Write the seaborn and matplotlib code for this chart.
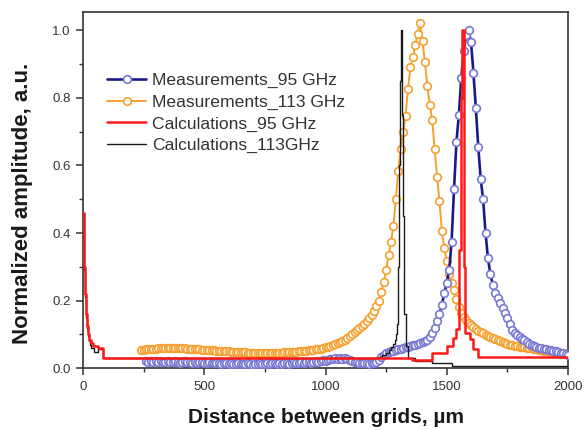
import numpy as np
import pandas as pd
import matplotlib
matplotlib.use("Agg")
import matplotlib.pyplot as plt
import seaborn as sns

# ---------------- data ----------------
# Measurements_113 GHz, sampled every 10 um from 240 to 2000 um
orange_x0 = 240
orange_y = [
    0.053, 0.055, 0.056, 0.057, 0.057, 0.058, 0.058, 0.059, 0.059, 0.060,
    0.060, 0.060, 0.061, 0.061, 0.061, 0.060, 0.060, 0.059, 0.059, 0.058,
    0.058, 0.057, 0.057, 0.056, 0.056, 0.055, 0.055, 0.054, 0.054, 0.053,
    0.053, 0.052, 0.052, 0.051, 0.051, 0.050, 0.050, 0.049, 0.049, 0.048,
    0.048, 0.047, 0.047, 0.047, 0.046, 0.046, 0.046, 0.045, 0.045, 0.045,
    0.045, 0.045, 0.045, 0.045, 0.045, 0.045, 0.046, 0.046, 0.046, 0.047,
    0.047, 0.048, 0.048, 0.049, 0.049, 0.050, 0.050, 0.051, 0.052, 0.053,
    0.054, 0.055, 0.056, 0.057, 0.058, 0.060, 0.062, 0.064, 0.066, 0.068,
    0.071, 0.074, 0.077, 0.081, 0.085, 0.090, 0.095, 0.101, 0.107, 0.113,
    0.120, 0.126, 0.132, 0.139, 0.148, 0.158, 0.170, 0.185, 0.200, 0.225,
    0.255, 0.290, 0.335, 0.375, 0.420, 0.500, 0.585, 0.650, 0.700, 0.745,
    0.825, 0.890, 0.920, 0.955, 0.990, 1.022, 0.968, 0.905, 0.835, 0.780,
    0.735, 0.650, 0.565, 0.495, 0.405, 0.355, 0.318, 0.280, 0.252, 0.232,
    0.205, 0.180, 0.165, 0.153, 0.142, 0.134, 0.127, 0.121, 0.116, 0.111,
    0.107, 0.103, 0.099, 0.095, 0.092, 0.089, 0.086, 0.083, 0.080, 0.077,
    0.075, 0.072, 0.070, 0.068, 0.066, 0.065, 0.064, 0.063, 0.062, 0.061,
    0.060, 0.059, 0.058, 0.057, 0.055, 0.054, 0.052, 0.051, 0.050, 0.048,
    0.047, 0.046, 0.045, 0.044, 0.043, 0.042, 0.041,
]

# Measurements_95 GHz, sampled every 10 um from 260 to 2000 um
blue_x0 = 260
blue_y = [
    0.022, 0.020, 0.023, 0.019, 0.021, 0.018, 0.022, 0.020, 0.019, 0.021,
    0.018, 0.020, 0.022, 0.019, 0.017, 0.020, 0.021, 0.018, 0.019, 0.017,
    0.019, 0.016, 0.018, 0.020, 0.017, 0.015, 0.018, 0.016, 0.017, 0.015,
    0.016, 0.014, 0.017, 0.015, 0.013, 0.016, 0.014, 0.012, 0.015, 0.013,
    0.014, 0.012, 0.015, 0.013, 0.011, 0.014, 0.013, 0.015, 0.012, 0.014,
    0.016, 0.013, 0.015, 0.017, 0.014, 0.016, 0.013, 0.015, 0.017, 0.014,
    0.016, 0.018, 0.015, 0.017, 0.019, 0.016, 0.018, 0.020, 0.017, 0.019,
    0.021, 0.019, 0.022, 0.024, 0.023, 0.026, 0.028, 0.027, 0.029, 0.028,
    0.030, 0.028, 0.029, 0.027, 0.025, 0.022, 0.020, 0.018, 0.016, 0.017,
    0.015, 0.016, 0.014, 0.017, 0.016, 0.020, 0.026, 0.034, 0.040, 0.044,
    0.047, 0.050, 0.052, 0.054, 0.056, 0.058, 0.060, 0.062, 0.064, 0.066,
    0.068, 0.070, 0.072, 0.075, 0.078, 0.081, 0.085, 0.093, 0.105, 0.120,
    0.140, 0.162, 0.188, 0.222, 0.252, 0.290, 0.375, 0.530, 0.670, 0.750,
    0.860, 0.940, 0.985, 1.000, 0.965, 0.875, 0.770, 0.655, 0.560, 0.500,
    0.400, 0.325, 0.278, 0.247, 0.224, 0.208, 0.193, 0.179, 0.165, 0.150,
    0.130, 0.114, 0.105, 0.098, 0.093, 0.088, 0.083, 0.078, 0.073, 0.069,
    0.066, 0.063, 0.061, 0.059, 0.057, 0.056, 0.054, 0.053, 0.052, 0.050,
    0.048, 0.046, 0.044, 0.042, 0.040,
]

# Calculations_95 GHz (step values, each holds until the next x)
red_x = [0, 3, 6, 9, 12, 15, 20, 25, 32, 42, 63, 84, 1355, 1438, 1499, 1527,
         1540, 1550, 1558, 1562, 1570, 1573, 1576, 1596, 1608, 1630, 2000]
red_y = [0.46, 0.38, 0.30, 0.22, 0.16, 0.124, 0.10, 0.085, 0.075, 0.066, 0.06,
         0.031, 0.024, 0.046, 0.066, 0.09, 0.115, 0.35, 0.80, 1.00, 0.70,
         0.30, 0.105, 0.088, 0.058, 0.032, 0.032]

# Calculations_113GHz (step values)
black_x = [0, 3, 6, 9, 12, 15, 19, 23, 28, 35, 45, 60, 82, 1200, 1220, 1235,
           1250, 1262, 1272, 1280, 1287, 1292, 1296, 1300, 1303, 1307, 1310,
           1317, 1321, 1325, 1330, 1340, 1370, 1440, 1520, 2000]
black_y = [0.46, 0.37, 0.29, 0.21, 0.15, 0.115, 0.095, 0.082, 0.07, 0.06, 0.047,
           0.057, 0.029, 0.031, 0.034, 0.038, 0.045, 0.053, 0.062, 0.072, 0.085,
           0.10, 0.13, 0.30, 0.60, 0.85, 1.00, 0.75, 0.45, 0.16, 0.065, 0.031,
           0.022, 0.015, 0.008, 0.008]

labels = ["Measurements_95 GHz", "Measurements_113 GHz",
          "Calculations_95 GHz", "Calculations_113GHz"]

x_ticks = [0, 500, 1000, 1500, 2000]
y_ticks = [0.0, 0.2, 0.4, 0.6, 0.8, 1.0]

# ---------------- build frames ----------------
orange_df = pd.DataFrame({"x": orange_x0 + 10 * np.arange(len(orange_y)), "y": orange_y})
blue_df = pd.DataFrame({"x": blue_x0 + 10 * np.arange(len(blue_y)), "y": blue_y})
red_df = pd.DataFrame({"x": red_x, "y": red_y})
black_df = pd.DataFrame({"x": black_x, "y": black_y})

sns.set_style("ticks")
plt.rcParams["font.family"] = ["Liberation Sans", "DejaVu Sans"]

fig = plt.figure(figsize=(5.84, 4.30), dpi=100)
ax = fig.add_axes([83 / 584, 1 - 368.3 / 430, 485 / 584, 356.3 / 430])

navy = "#1a1a8a"
blue_edge = "#7878d2"
orange = "#f5a030"
red = "#ff1a1a"
black = "#1a1a1a"

sns.lineplot(data=orange_df, x="x", y="y", ax=ax, estimator=None, sort=False,
             color=orange, linewidth=1.4, marker="o", markersize=5.5,
             markerfacecolor="white", markeredgecolor=orange, markeredgewidth=1.2,
             zorder=2, label=labels[1])
sns.lineplot(data=blue_df, x="x", y="y", ax=ax, estimator=None, sort=False,
             color=navy, linewidth=1.9, marker="o", markersize=5.5,
             markerfacecolor="white", markeredgecolor=blue_edge, markeredgewidth=1.2,
             zorder=3, label=labels[0])
sns.lineplot(data=black_df, x="x", y="y", ax=ax, estimator=None, sort=False,
             color=black, linewidth=1.0, drawstyle="steps-post", zorder=4,
             label=labels[3])
sns.lineplot(data=red_df, x="x", y="y", ax=ax, estimator=None, sort=False,
             color=red, linewidth=1.8, drawstyle="steps-post", zorder=5,
             label=labels[2])

ax.set_xlim(0, 2000)
ax.set_ylim(0, 1.054)
ax.set_xticks(x_ticks)
ax.set_xticklabels([str(v) for v in x_ticks])
ax.set_yticks(y_ticks)
ax.set_yticklabels([f"{v:.1f}" for v in y_ticks])
ax.set_xticks(np.arange(250, 2000, 500), minor=True)
ax.set_yticks(np.arange(0.1, 1.0, 0.2), minor=True)
ax.tick_params(axis="both", which="major", direction="out", length=5, width=1.1,
               labelsize=9.5, labelcolor="#333333", color="#333333", pad=4)
ax.tick_params(axis="both", which="minor", direction="out", length=3, width=1.0,
               color="#333333")
ax.tick_params(top=False, right=False)
for s in ax.spines.values():
    s.set_color("#333333")
    s.set_linewidth(1.2)

ax.set_xlabel("Distance between grids, \u00b5m", fontsize=15, fontweight="bold",
              color="#1a1a1a", va="baseline")
ax.set_ylabel("Normalized amplitude, a.u.", fontsize=16, fontweight="bold",
              color="#1a1a1a")
ax.xaxis.set_label_coords(0.5, -0.1535)
ax.yaxis.set_label_coords(-0.103, 0.4625)

handles, labs = ax.get_legend_handles_labels()
order = [labs.index(l) for l in labels]
leg = ax.legend([handles[i] for i in order], [labs[i] for i in order],
                loc="upper left", bbox_to_anchor=(0.049, 0.829), frameon=False,
                fontsize=12.6, handlelength=2.27, handletextpad=0.34,
                labelspacing=0.36, borderpad=0, borderaxespad=0, numpoints=1)
for t in leg.get_texts():
    t.set_color("#333333")

fig.savefig("out.png", dpi=100, facecolor="white")
